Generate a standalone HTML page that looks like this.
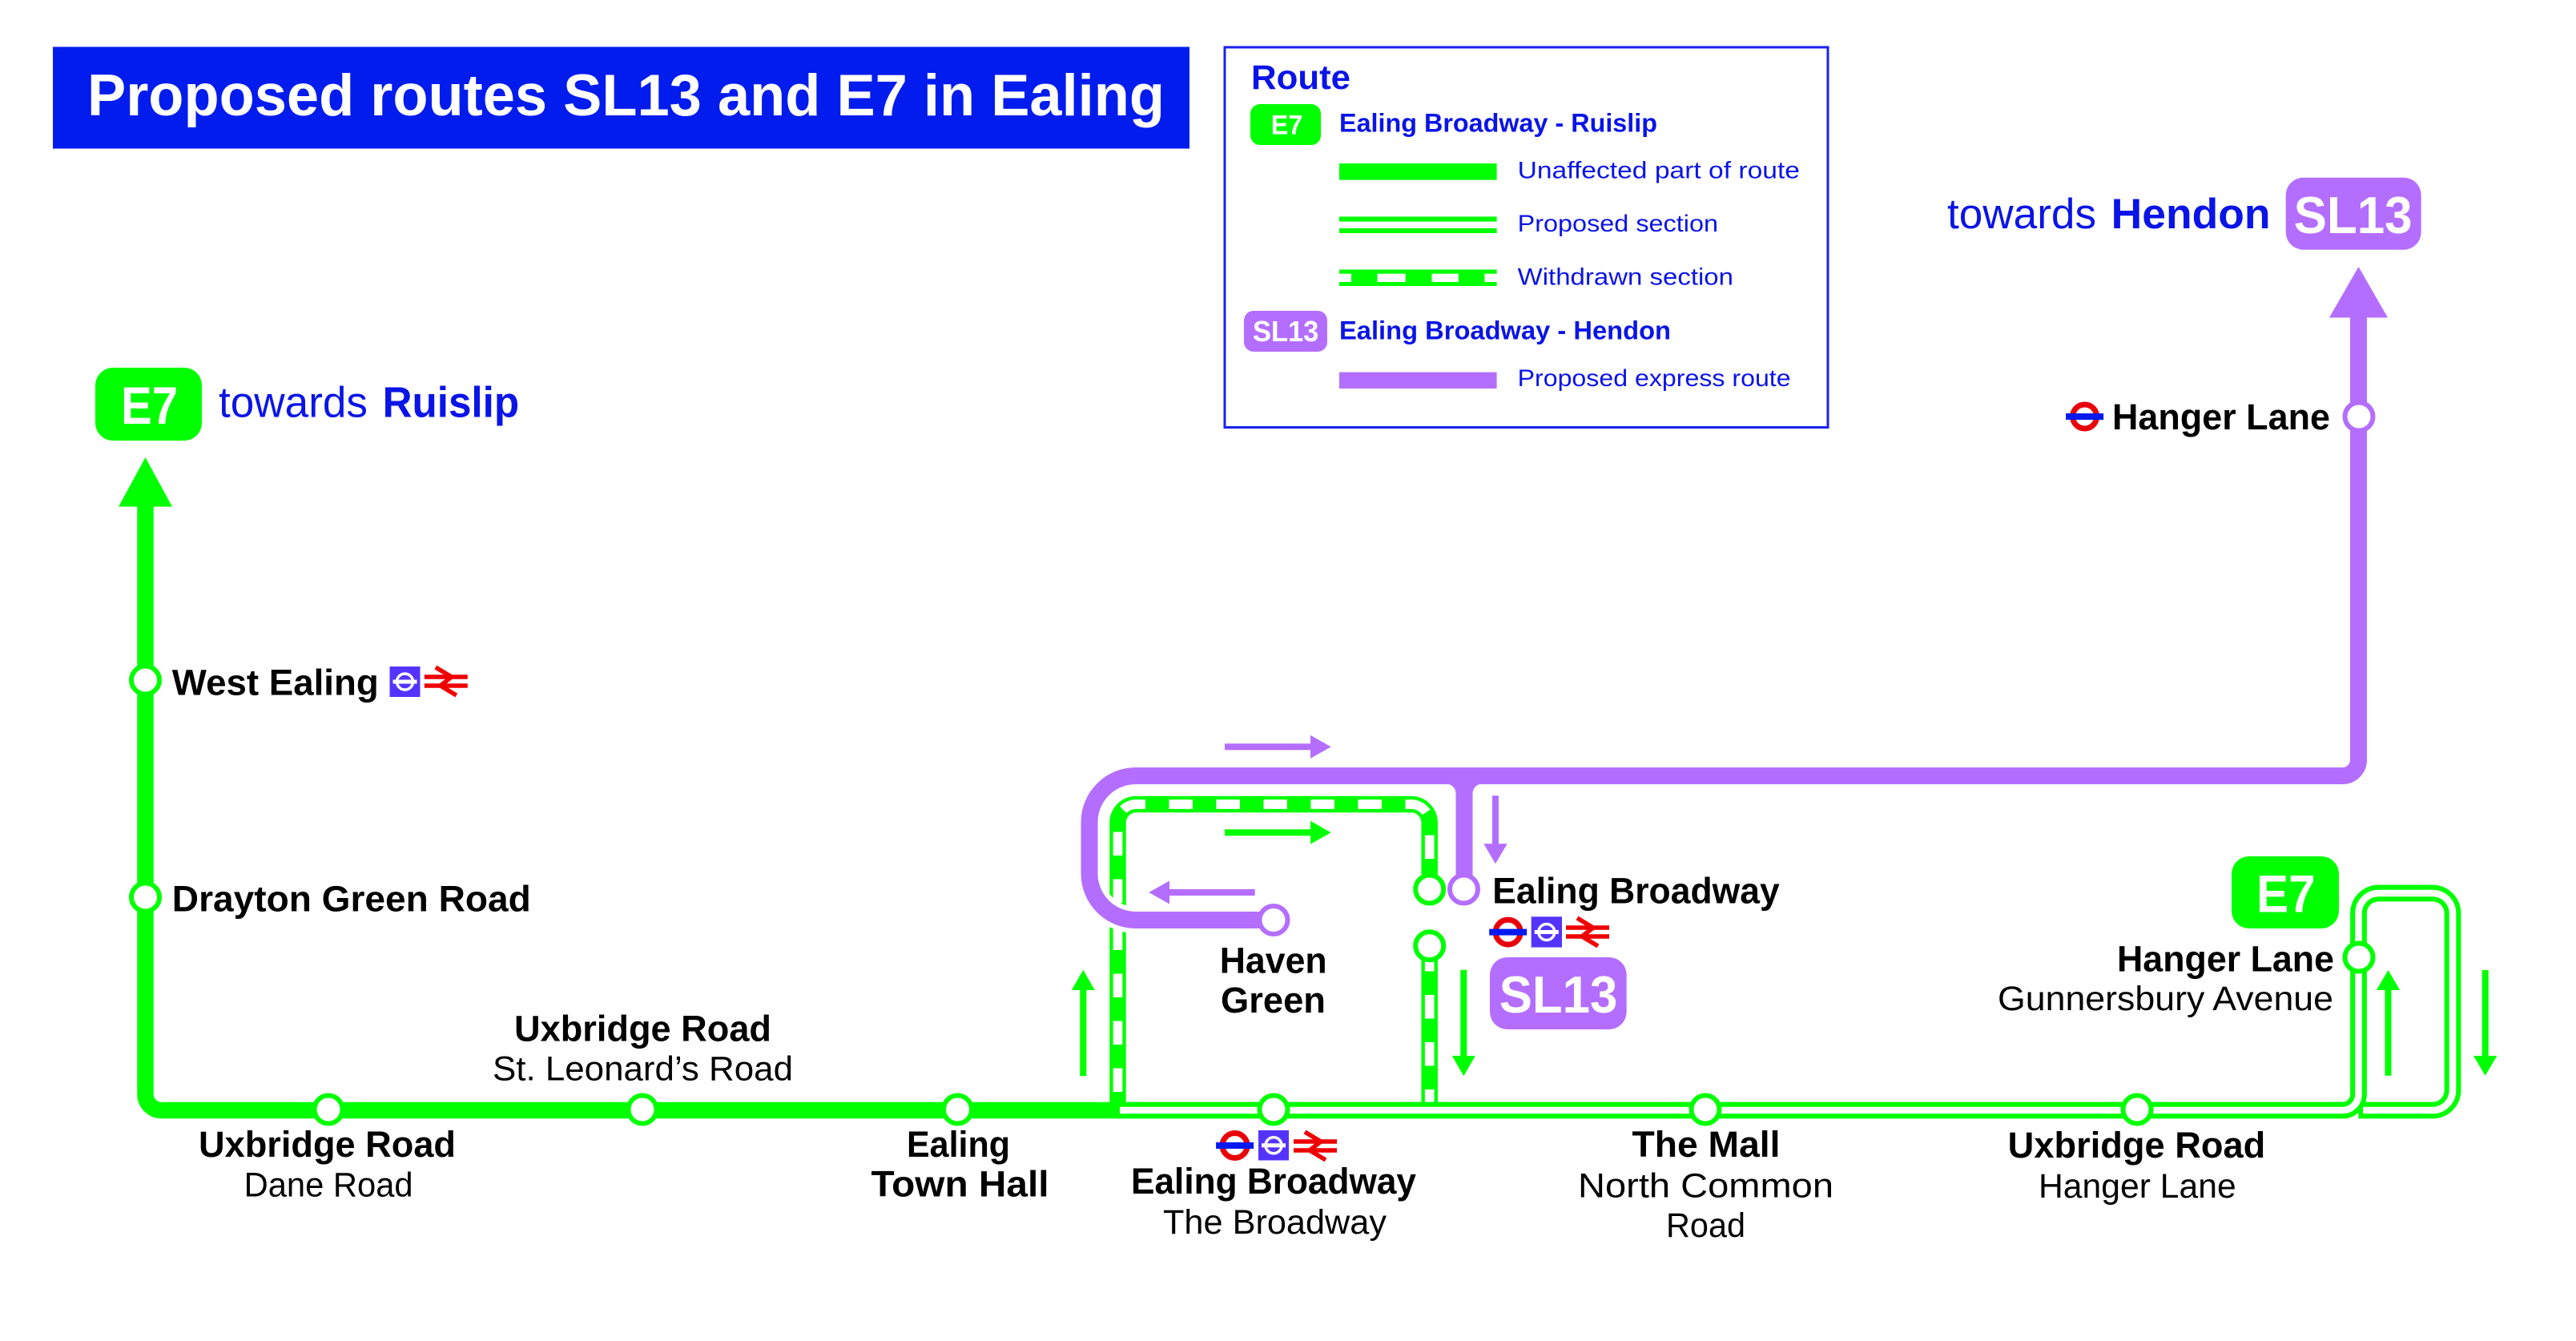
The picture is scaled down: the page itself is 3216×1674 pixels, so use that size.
<!DOCTYPE html>
<html>
<head>
<meta charset="utf-8">
<style>
html,body{margin:0;padding:0;background:#ffffff;}
svg{display:block;}
text{font-family:"Liberation Sans",sans-serif;}
</style>
</head>
<body>
<svg width="3216" height="1674" viewBox="0 0 3216 1674" xmlns="http://www.w3.org/2000/svg">
<rect x="0" y="0" width="3216" height="1674" fill="#ffffff"/>

<!-- Title -->
<rect x="66" y="58.5" width="1419" height="127" fill="#021ced"/>
<text x="109" y="144" font-size="73" font-weight="bold" fill="#ffffff" textLength="1345" lengthAdjust="spacingAndGlyphs">Proposed routes SL13 and E7 in Ealing</text>

<!-- Legend -->
<rect x="1529" y="59" width="753" height="474.5" fill="none" stroke="#1a22ee" stroke-width="3"/>
<text x="1562" y="111" font-size="43" font-weight="bold" fill="#0a14e6" textLength="124" lengthAdjust="spacingAndGlyphs">Route</text>
<rect x="1561" y="130" width="88" height="51" rx="12" fill="#00ff00"/>
<text x="1586.7" y="167.7" font-size="34" font-weight="bold" fill="#ffffff" textLength="39.6" lengthAdjust="spacingAndGlyphs">E7</text>
<text x="1672" y="164.3" font-size="32" font-weight="bold" fill="#0a14e6" textLength="397" lengthAdjust="spacingAndGlyphs">Ealing Broadway - Ruislip</text>
<rect x="1672" y="204" width="196.6" height="20.6" fill="#00ff00"/>
<text x="1894.6" y="222.4" font-size="30" fill="#0a14e6" textLength="352.4" lengthAdjust="spacingAndGlyphs">Unaffected part of route</text>
<rect x="1672" y="270.4" width="196.6" height="20.6" fill="#00ff00"/>
<rect x="1672" y="276.6" width="196.6" height="8.4" fill="#ffffff"/>
<text x="1894.6" y="289" font-size="30" fill="#0a14e6" textLength="250.4" lengthAdjust="spacingAndGlyphs">Proposed section</text>
<rect x="1672" y="336.5" width="196.6" height="20.5" fill="#00ff00"/>
<rect x="1672" y="341.7" width="15" height="10.3" fill="#ffffff"/>
<rect x="1719.5" y="341.7" width="35.2" height="10.3" fill="#ffffff"/>
<rect x="1787.5" y="341.7" width="33.3" height="10.3" fill="#ffffff"/>
<rect x="1853.4" y="341.7" width="15.2" height="10.3" fill="#ffffff"/>
<text x="1894.6" y="355.4" font-size="30" fill="#0a14e6" textLength="269.4" lengthAdjust="spacingAndGlyphs">Withdrawn section</text>
<rect x="1553" y="388" width="104" height="51" rx="12" fill="#b46eff"/>
<text x="1564" y="426" font-size="36" font-weight="bold" fill="#ffffff" textLength="82.3" lengthAdjust="spacingAndGlyphs">SL13</text>
<text x="1672" y="423.6" font-size="32" font-weight="bold" fill="#0a14e6" textLength="414" lengthAdjust="spacingAndGlyphs">Ealing Broadway - Hendon</text>
<rect x="1672" y="464.6" width="196.6" height="20.4" fill="#b46eff"/>
<text x="1894.6" y="482" font-size="30" fill="#0a14e6" textLength="341" lengthAdjust="spacingAndGlyphs">Proposed express route</text>

<!-- towards Hendon + SL13 badge -->
<text x="2431" y="285" font-size="53" fill="#0a14e6" textLength="186" lengthAdjust="spacingAndGlyphs">towards</text>
<text x="2635.6" y="285" font-size="53" font-weight="bold" fill="#0a14e6" textLength="199" lengthAdjust="spacingAndGlyphs">Hendon</text>
<rect x="2853.7" y="221.7" width="169" height="90" rx="22" fill="#b46eff"/>
<text x="2863.6" y="291" font-size="65" font-weight="bold" fill="#ffffff" textLength="148" lengthAdjust="spacingAndGlyphs">SL13</text>

<!-- towards Ruislip + E7 badge -->
<rect x="119" y="459" width="133" height="91" rx="22" fill="#00ff00"/>
<text x="151" y="529" font-size="66" font-weight="bold" fill="#ffffff" textLength="71" lengthAdjust="spacingAndGlyphs">E7</text>
<text x="273" y="520.4" font-size="54" fill="#0a14e6" textLength="186" lengthAdjust="spacingAndGlyphs">towards</text>
<text x="477.6" y="520.4" font-size="54" font-weight="bold" fill="#0a14e6" textLength="170.5" lengthAdjust="spacingAndGlyphs">Ruislip</text>

<!-- E7 solid main line -->
<path d="M181.5,628 V1366 A20,20 0 0 0 201.5,1386 H1400" stroke="#00ff00" stroke-width="20.5" fill="none"/>
<polygon points="181.5,571 148,632.5 215,632.5" fill="#00ff00"/>

<!-- Withdrawn loop -->
<path d="M1395.5,1380 V1027 A23,23 0 0 1 1418.5,1004 H1761.7 A23,23 0 0 1 1784.7,1027 V1100" stroke="#00ff00" stroke-width="20.5" fill="none"/>
<path d="M1395.5,1380 V1027 A23,23 0 0 1 1418.5,1004 H1761.7 A23,23 0 0 1 1784.7,1027 V1100" stroke="#ffffff" stroke-width="11.7" fill="none" stroke-dasharray="29.5 29.5" stroke-dashoffset="42"/>
<path d="M1784.7,1183 V1380" stroke="#00ff00" stroke-width="20.5" fill="none"/>
<path d="M1784.7,1183 V1378" stroke="#ffffff" stroke-width="11.7" fill="none" stroke-dasharray="29.5 29.5"/>

<!-- Proposed double line + Hanger Lane loop -->
<path d="M1395,1386 H2924.5 A20,20 0 0 0 2944.5,1366 V1140 A25,25 0 0 1 2969.5,1115 H3037 A25,25 0 0 1 3062,1140 V1361 A25,25 0 0 1 3037,1386 H2944.5" stroke="#00ff00" stroke-width="20.7" fill="none"/>
<path d="M1398,1386 H2924.5 A20,20 0 0 0 2944.5,1366 V1140 A25,25 0 0 1 2969.5,1115 H3037 A25,25 0 0 1 3062,1140 V1361 A25,25 0 0 1 3037,1386 H2950" stroke="#ffffff" stroke-width="8.6" fill="none"/>

<!-- Purple SL13 -->
<path d="M1590,1148.5 H1418 A58,58 0 0 1 1360,1090.5 V1026.5 A58,58 0 0 1 1418,968.5 H2924.5 A20,20 0 0 0 2944.5,948.5 V394" stroke="#ffffff" stroke-width="33" fill="none"/>
<path d="M1590,1148.5 H1418 A58,58 0 0 1 1360,1090.5 V1026.5 A58,58 0 0 1 1418,968.5 H2924.5 A20,20 0 0 0 2944.5,948.5 V394" stroke="#b46eff" stroke-width="21" fill="none"/>
<polygon points="2944.5,333 2908,396.5 2981,396.5" fill="#b46eff"/>
<path d="M1828,972 V1093" stroke="#b46eff" stroke-width="21" fill="none"/>
<path d="M1805.5,978.5 L1817.5,978.5 L1817.5,990.5 A12,12 0 0 0 1805.5,978.5 Z" fill="#b46eff"/>
<path d="M1850.5,978.5 L1838.5,978.5 L1838.5,990.5 A12,12 0 0 1 1850.5,978.5 Z" fill="#b46eff"/>

<!-- Direction arrows -->
<path d="M1529,932.3 H1638" stroke="#b46eff" stroke-width="8" fill="none"/>
<polygon points="1636,917.8 1661.7,932.3 1636,946.8" fill="#b46eff"/>
<path d="M1529,1039.3 H1638" stroke="#00ff00" stroke-width="8" fill="none"/>
<polygon points="1636,1024.8 1661.7,1039.3 1636,1053.8" fill="#00ff00"/>
<path d="M1566.7,1114 H1458" stroke="#b46eff" stroke-width="8" fill="none"/>
<polygon points="1460,1099.5 1434.3,1114 1460,1128.5" fill="#b46eff"/>
<path d="M1867,993.3 V1055" stroke="#b46eff" stroke-width="8" fill="none"/>
<polygon points="1852.3,1053.3 1867,1078.3 1881.7,1053.3" fill="#b46eff"/>
<path d="M1352.3,1343.3 V1234" stroke="#00ff00" stroke-width="8" fill="none"/>
<polygon points="1337.8,1236 1352.3,1210.7 1366.8,1236" fill="#00ff00"/>
<path d="M1827.3,1210.7 V1320" stroke="#00ff00" stroke-width="8" fill="none"/>
<polygon points="1812.8,1318 1827.3,1343.3 1841.8,1318" fill="#00ff00"/>
<path d="M2981.5,1342.7 V1234" stroke="#00ff00" stroke-width="8" fill="none"/>
<polygon points="2966.8,1236 2981.5,1211 2996.2,1236" fill="#00ff00"/>
<path d="M3102.7,1211 V1320" stroke="#00ff00" stroke-width="8" fill="none"/>
<polygon points="3088,1318 3102.7,1342.7 3117.4,1318" fill="#00ff00"/>

<!-- Station circles -->
<g fill="#ffffff" stroke="#00ff00" stroke-width="6">
<circle cx="181.5" cy="849" r="17.5"/>
<circle cx="181.5" cy="1120" r="17.5"/>
<circle cx="410" cy="1385" r="17.5"/>
<circle cx="802" cy="1385" r="17.5"/>
<circle cx="1195.5" cy="1385" r="17.5"/>
<circle cx="1590" cy="1385" r="17.5"/>
<circle cx="2129" cy="1385" r="17.5"/>
<circle cx="2668" cy="1385" r="17.5"/>
<circle cx="2945" cy="1195" r="17.5"/>
<circle cx="1784.7" cy="1110" r="17.5"/>
<circle cx="1784.7" cy="1180.7" r="17.5"/>
</g>
<g fill="#ffffff" stroke="#b46eff" stroke-width="6">
<circle cx="1590" cy="1148.5" r="17.5"/>
<circle cx="1827.5" cy="1110" r="17.5"/>
<circle cx="2945" cy="520" r="17.5"/>
</g>

<!-- Icons: West Ealing -->
<rect x="486.5" y="832" width="38" height="38" fill="#5533ff"/>
<circle cx="505.5" cy="851" r="10" fill="none" stroke="#ffffff" stroke-width="3.5"/>
<rect x="490.5" y="848.5" width="30" height="5" fill="#ffffff"/>
<g stroke="#ee0000" stroke-width="5.5" fill="none">
<line x1="529.8" y1="845" x2="583.8" y2="845"/>
<line x1="529.8" y1="856" x2="583.8" y2="856"/>
<polyline points="543.8,833 563.8,845 549.8,856 569.8,868"/>
</g>

<!-- Icons: Ealing Broadway (mid) -->
<circle cx="1882.7" cy="1163.6" r="15.5" fill="none" stroke="#e8000a" stroke-width="7"/>
<rect x="1859.2" y="1159.6" width="47" height="8" fill="#0019ee"/>
<rect x="1911.7" y="1144.3" width="38.3" height="38.3" fill="#5533ff"/>
<circle cx="1930.8" cy="1163.5" r="10" fill="none" stroke="#ffffff" stroke-width="3.5"/>
<rect x="1915.8" y="1161" width="30" height="5" fill="#ffffff"/>
<g stroke="#ee0000" stroke-width="5.5" fill="none">
<line x1="1955" y1="1158" x2="2009" y2="1158"/>
<line x1="1955" y1="1169" x2="2009" y2="1169"/>
<polyline points="1969,1146 1989,1158 1975,1169 1995,1181"/>
</g>

<!-- Icons: Ealing Broadway (bottom) -->
<circle cx="1541.6" cy="1430" r="15.5" fill="none" stroke="#e8000a" stroke-width="7"/>
<rect x="1518.1" y="1426" width="47" height="8" fill="#0019ee"/>
<rect x="1571" y="1411" width="38" height="37.5" fill="#5533ff"/>
<circle cx="1590" cy="1429.8" r="10" fill="none" stroke="#ffffff" stroke-width="3.5"/>
<rect x="1575" y="1427.3" width="30" height="5" fill="#ffffff"/>
<g stroke="#ee0000" stroke-width="5.5" fill="none">
<line x1="1615" y1="1425" x2="1669" y2="1425"/>
<line x1="1615" y1="1436" x2="1669" y2="1436"/>
<polyline points="1629,1413 1649,1425 1635,1436 1655,1448"/>
</g>

<!-- Icon: Hanger Lane (top) -->
<circle cx="2602.6" cy="520" r="15" fill="none" stroke="#e8000a" stroke-width="7"/>
<rect x="2579.1" y="516" width="47" height="8" fill="#0019ee"/>
<text x="2637" y="536" font-size="45" font-weight="bold" fill="#000000" textLength="272" lengthAdjust="spacingAndGlyphs">Hanger Lane</text>

<!-- Station labels -->
<g fill="#000000">
<text x="214.8" y="867.3" font-size="45" font-weight="bold" textLength="258" lengthAdjust="spacingAndGlyphs">West Ealing</text>
<text x="214.8" y="1137.3" font-size="45" font-weight="bold" textLength="448" lengthAdjust="spacingAndGlyphs">Drayton Green Road</text>
<text x="248" y="1444" font-size="45" font-weight="bold" textLength="321" lengthAdjust="spacingAndGlyphs">Uxbridge Road</text>
<text x="304.6" y="1493.3" font-size="43" textLength="211" lengthAdjust="spacingAndGlyphs">Dane Road</text>
<text x="642" y="1299.3" font-size="45" font-weight="bold" textLength="321" lengthAdjust="spacingAndGlyphs">Uxbridge Road</text>
<text x="615" y="1348.3" font-size="43" textLength="375" lengthAdjust="spacingAndGlyphs">St. Leonard’s Road</text>
<text x="1132" y="1444" font-size="45" font-weight="bold" textLength="129" lengthAdjust="spacingAndGlyphs">Ealing</text>
<text x="1087.5" y="1493.3" font-size="45" font-weight="bold" textLength="222" lengthAdjust="spacingAndGlyphs">Town Hall</text>
<text x="1412" y="1490" font-size="45" font-weight="bold" textLength="356" lengthAdjust="spacingAndGlyphs">Ealing Broadway</text>
<text x="1452" y="1540" font-size="43" textLength="279" lengthAdjust="spacingAndGlyphs">The Broadway</text>
<text x="2037.5" y="1444" font-size="45" font-weight="bold" textLength="185" lengthAdjust="spacingAndGlyphs">The Mall</text>
<text x="1970" y="1494.3" font-size="43" textLength="319" lengthAdjust="spacingAndGlyphs">North Common</text>
<text x="2080" y="1544" font-size="43" textLength="99" lengthAdjust="spacingAndGlyphs">Road</text>
<text x="2506.7" y="1445" font-size="45" font-weight="bold" textLength="321.6" lengthAdjust="spacingAndGlyphs">Uxbridge Road</text>
<text x="2545" y="1495" font-size="43" textLength="246.7" lengthAdjust="spacingAndGlyphs">Hanger Lane</text>
<text x="2643" y="1212.3" font-size="45" font-weight="bold" textLength="271" lengthAdjust="spacingAndGlyphs">Hanger Lane</text>
<text x="2494" y="1261" font-size="43" textLength="419" lengthAdjust="spacingAndGlyphs">Gunnersbury Avenue</text>
<text x="1522.7" y="1214.3" font-size="45" font-weight="bold" textLength="134" lengthAdjust="spacingAndGlyphs">Haven</text>
<text x="1524" y="1264" font-size="45" font-weight="bold" textLength="131" lengthAdjust="spacingAndGlyphs">Green</text>
<text x="1863.3" y="1127.3" font-size="45" font-weight="bold" textLength="358.4" lengthAdjust="spacingAndGlyphs">Ealing Broadway</text>
</g>

<!-- Badges on map -->
<rect x="1860" y="1195" width="170.7" height="90" rx="22" fill="#b46eff"/>
<text x="1871.7" y="1264" font-size="65" font-weight="bold" fill="#ffffff" textLength="147.6" lengthAdjust="spacingAndGlyphs">SL13</text>
<rect x="2786" y="1069" width="134" height="90" rx="22" fill="#00ff00"/>
<text x="2817" y="1138.3" font-size="66" font-weight="bold" fill="#ffffff" textLength="73.6" lengthAdjust="spacingAndGlyphs">E7</text>
</svg>
</body>
</html>
